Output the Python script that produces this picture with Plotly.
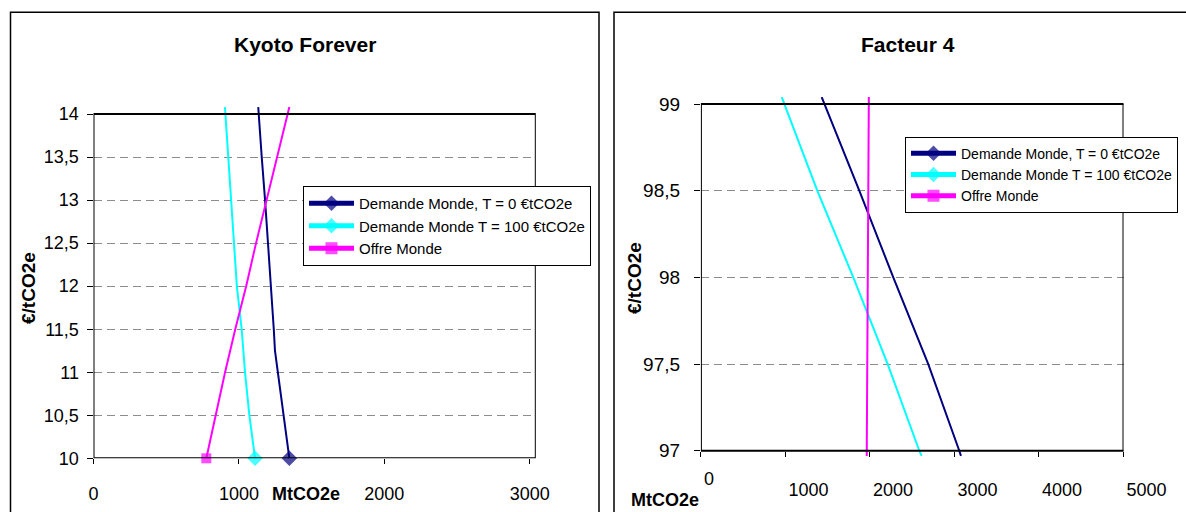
import plotly.graph_objects as go

W, H = 1186, 512
FONT = "Liberation Sans, Arial, sans-serif"

# ---------------- Data: Kyoto Forever ----------------
kf_price_dem0 = [10, 10.5, 11, 11.25, 11.5, 12, 12.5, 13, 13.5, 14.08]
kf_dem0 = [1347, 1307, 1270, 1248, 1240, 1221, 1198, 1180, 1157, 1133]
kf_price = [10, 10.5, 11, 11.5, 12, 12.5, 13, 13.5, 14.08]
kf_dem100 = [1111, 1072, 1042, 1019, 986, 966, 946, 927, 904]
kf_offre = [776, 840, 905, 975, 1050, 1118, 1192, 1262, 1347]

kf_ytick_vals = [10, 10.5, 11, 11.5, 12, 12.5, 13, 13.5, 14]
kf_ytick_text = ["10", "10,5", "11", "11,5", "12", "12,5", "13", "13,5", "14"]
kf_xtick_vals = [0, 1000, 2000, 3000]
kf_xtick_text = ["0", "1000", "2000", "3000"]

# ---------------- Data: Facteur 4 ----------------
f4_price = [99.04, 98.5, 98, 97.5, 97, 96.97]
f4_dem0 = [1429, 1874, 2276, 2690, 3057, 3077]
f4_dem100 = [956, 1377, 1803, 2210, 2584, 2612]
f4_price_offre = [99.04, 98, 96.97]
f4_offre = [1987, 1977, 1962]

f4_ytick_vals = [97, 97.5, 98, 98.5, 99]
f4_ytick_text = ["97", "97,5", "98", "98,5", "99"]
f4_xtick_vals = [0, 1000, 2000, 3000, 4000, 5000]
f4_xtick_text = ["", "1000", "2000", "3000", "4000", "5000"]

names = ["Demande Monde, T = 0 €tCO2e", "Demande Monde T = 100 €tCO2e", "Offre Monde"]
colors = ["#000080", "#00FFFF", "#FF00FF"]
symbols = ["diamond", "diamond", "square"]

fig = go.Figure()

# Kyoto Forever traces (marker only on the first point)
for xs, ys, nm, col, sym, msz in [
    (kf_dem0, kf_price_dem0, names[0], colors[0], symbols[0], 12),
    (kf_dem100, kf_price, names[1], colors[1], symbols[1], 12),
    (kf_offre, kf_price, names[2], colors[2], symbols[2], 10),
]:
    fig.add_trace(go.Scatter(
        x=xs, y=ys, name=nm, mode="lines+markers", xaxis="x", yaxis="y",
        line=dict(color=col, width=2),
        marker=dict(symbol=sym, color=col, size=[msz] + [0] * (len(xs) - 1), line=dict(width=0)),
        cliponaxis=False, legend="legend",
    ))

# Facteur 4 traces (no visible markers on the plot, markers only in legend)
for xs, ys, nm, col, sym in [
    (f4_dem0, f4_price, names[0], colors[0], symbols[0]),
    (f4_dem100, f4_price, names[1], colors[1], symbols[1]),
    (f4_offre, f4_price_offre, names[2], colors[2], symbols[2]),
]:
    fig.add_trace(go.Scatter(
        x=xs, y=ys, name=nm, mode="lines+markers", xaxis="x2", yaxis="y2",
        line=dict(color=col, width=2),
        marker=dict(symbol=sym, color=col, size=[0.01] + [0] * (len(xs) - 1), line=dict(width=0)),
        legend="legend2",
    ))

def px_x(p):
    return p / W

def px_y(p):
    return 1 - p / H

tickfont = dict(family=FONT, size=18, color="black")
grid = dict(showgrid=True, gridcolor="#8c8c8c", gridwidth=1, griddash="8px,5px")

fig.update_layout(
    width=W, height=H,
    margin=dict(l=0, r=0, t=0, b=0, autoexpand=False),
    paper_bgcolor="white", plot_bgcolor="white",
    font=dict(family=FONT, color="black"),
    xaxis=dict(domain=[px_x(93.5), px_x(535.8)], range=[0, 3042], anchor="y",
               tickvals=kf_xtick_vals, ticktext=kf_xtick_text, tickfont=tickfont,
               ticks="outside", ticklen=5, tickcolor="black", showgrid=False,
               zeroline=False, showline=False, ticklabelstandoff=14),
    yaxis=dict(domain=[px_y(458.3), px_y(106.25)], range=[10, 14.09], anchor="x",
               tickvals=kf_ytick_vals, ticktext=kf_ytick_text, tickfont=tickfont,
               ticks="outside", ticklen=6, tickcolor="black",
               zeroline=False, showline=False, ticklabelstandoff=4, **grid),
    xaxis2=dict(domain=[px_x(700.9), px_x(1123.5)], range=[0, 5000], anchor="free",
                position=px_y(450.7),
                tickvals=f4_xtick_vals, ticktext=f4_xtick_text, tickfont=tickfont,
                ticks="outside", ticklen=5, tickcolor="black", showgrid=False,
                zeroline=False, showline=False, ticklabelstandoff=18, ticklabelshift=23),
    yaxis2=dict(domain=[px_y(456.8), px_y(97.07)], range=[96.965, 99.04], anchor="x2",
                tickvals=f4_ytick_vals, ticktext=f4_ytick_text,
                tickfont=dict(family=FONT, size=19, color="black"),
                ticks="outside", ticklen=6, tickcolor="black",
                zeroline=False, showline=False, ticklabelstandoff=10, **grid),
    legend=dict(x=px_x(303), y=px_y(186), xanchor="left", yanchor="top",
                bgcolor="white", bordercolor="black", borderwidth=1,
                font=dict(family=FONT, size=15, color="black"),
                itemsizing="constant", itemwidth=45, tracegroupgap=0),
    legend2=dict(x=px_x(905), y=px_y(136.7), xanchor="left", yanchor="top",
                 bgcolor="white", bordercolor="black", borderwidth=1,
                 font=dict(family=FONT, size=14, color="black"),
                 itemsizing="constant", itemwidth=45, tracegroupgap=0),
    showlegend=True,
)

shapes = [
    # outer chart frames
    dict(type="rect", xref="paper", yref="paper", x0=px_x(10.5), x1=px_x(599),
         y0=-0.1, y1=px_y(12.3), line=dict(color="black", width=1.5), layer="below"),
    dict(type="rect", xref="paper", yref="paper", x0=px_x(614), x1=1.1,
         y0=-0.1, y1=px_y(12.3), line=dict(color="black", width=1.5), layer="below"),
    # plot boxes
    dict(type="rect", xref="x", yref="y", x0=0, x1=3042, y0=10, y1=14,
         line=dict(color="black", width=2), layer="above"),
    dict(type="rect", xref="x2", yref="y2", x0=0, x1=5000, y0=97, y1=99,
         line=dict(color="black", width=2), layer="above"),
]
fig.update_layout(shapes=shapes)

ann = [
    dict(text="<b>Kyoto Forever</b>", x=px_x(305), y=px_y(44), size=21, angle=0),
    dict(text="<b>Facteur 4</b>", x=px_x(908), y=px_y(44), size=21, angle=0),
    dict(text="<b>€/tCO2e</b>", x=px_x(28), y=px_y(288), size=19, angle=-90),
    dict(text="<b>€/tCO2e</b>", x=px_x(634), y=px_y(278), size=19, angle=-90),
    dict(text="<b>MtCO2e</b>", x=px_x(306), y=px_y(494), size=18, angle=0),
    dict(text="<b>MtCO2e</b>", x=px_x(665), y=px_y(500), size=18, angle=0),
    dict(text="0", x=px_x(708.7), y=px_y(479), size=18, angle=0),
]
fig.update_layout(annotations=[
    dict(text=a["text"], x=a["x"], y=a["y"], xref="paper", yref="paper",
         xanchor="center", yanchor="middle", showarrow=False, textangle=a["angle"],
         font=dict(family=FONT, size=a["size"], color="black"))
    for a in ann
])

fig.write_html("out.html", config={"displayModeBar": False},
               post_script="document.body.style.margin='0';document.body.style.overflow='hidden';")
